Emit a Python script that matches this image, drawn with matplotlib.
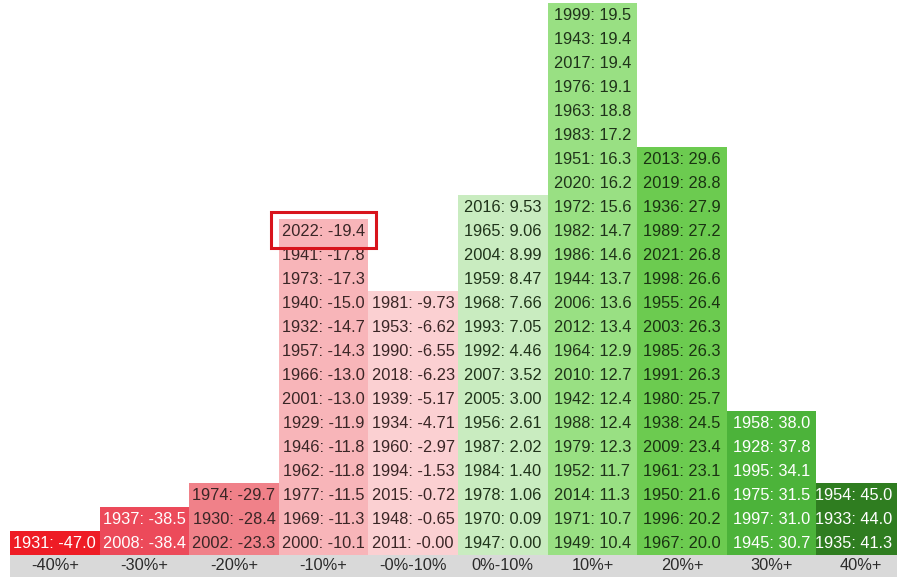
import matplotlib
matplotlib.use("Agg")
import matplotlib.pyplot as plt
from matplotlib.patches import Rectangle

# return buckets, left to right
buckets = ["-40%+", "-30%+", "-20%+", "-10%+", "-0%-10%",
           "0%-10%", "10%+", "20%+", "30%+", "40%+"]

# each bucket listed bottom to top as (year, return)
neg40 = [("1931", "-47.0")]
neg30 = [("2008", "-38.4"), ("1937", "-38.5")]
neg20 = [("2002", "-23.3"), ("1930", "-28.4"), ("1974", "-29.7")]
neg10 = [("2000", "-10.1"), ("1969", "-11.3"), ("1977", "-11.5"), ("1962", "-11.8"),
         ("1946", "-11.8"), ("1929", "-11.9"), ("2001", "-13.0"), ("1966", "-13.0"),
         ("1957", "-14.3"), ("1932", "-14.7"), ("1940", "-15.0"), ("1973", "-17.3"),
         ("1941", "-17.8"), ("2022", "-19.4")]
neg0 = [("2011", "-0.00"), ("1948", "-0.65"), ("2015", "-0.72"), ("1994", "-1.53"),
        ("1960", "-2.97"), ("1934", "-4.71"), ("1939", "-5.17"), ("2018", "-6.23"),
        ("1990", "-6.55"), ("1953", "-6.62"), ("1981", "-9.73")]
pos0 = [("1947", "0.00"), ("1970", "0.09"), ("1978", "1.06"), ("1984", "1.40"),
        ("1987", "2.02"), ("1956", "2.61"), ("2005", "3.00"), ("2007", "3.52"),
        ("1992", "4.46"), ("1993", "7.05"), ("1968", "7.66"), ("1959", "8.47"),
        ("2004", "8.99"), ("1965", "9.06"), ("2016", "9.53")]
pos10 = [("1949", "10.4"), ("1971", "10.7"), ("2014", "11.3"), ("1952", "11.7"),
         ("1979", "12.3"), ("1988", "12.4"), ("1942", "12.4"), ("2010", "12.7"),
         ("1964", "12.9"), ("2012", "13.4"), ("2006", "13.6"), ("1944", "13.7"),
         ("1986", "14.6"), ("1982", "14.7"), ("1972", "15.6"), ("2020", "16.2"),
         ("1951", "16.3"), ("1983", "17.2"), ("1963", "18.8"), ("1976", "19.1"),
         ("2017", "19.4"), ("1943", "19.4"), ("1999", "19.5")]
pos20 = [("1967", "20.0"), ("1996", "20.2"), ("1950", "21.6"), ("1961", "23.1"),
         ("2009", "23.4"), ("1938", "24.5"), ("1980", "25.7"), ("1991", "26.3"),
         ("1985", "26.3"), ("2003", "26.3"), ("1955", "26.4"), ("1998", "26.6"),
         ("2021", "26.8"), ("1989", "27.2"), ("1936", "27.9"), ("2019", "28.8"),
         ("2013", "29.6")]
pos30 = [("1945", "30.7"), ("1997", "31.0"), ("1975", "31.5"), ("1995", "34.1"),
         ("1928", "37.8"), ("1958", "38.0")]
pos40 = [("1935", "41.3"), ("1933", "44.0"), ("1954", "45.0")]

columns = [neg40, neg30, neg20, neg10, neg0, pos0, pos10, pos20, pos30, pos40]

fill_colors = ["#ee1c25", "#ec4a5a", "#f08189", "#f8b5b9", "#fbd0d2",
               "#c9ecc0", "#99e083", "#6ccb50", "#4cb33a", "#2f7d20"]
text_colors = ["white", "white", "#3a2626", "#3a2626", "#3a2626",
               "#1f331a", "#1f331a", "#1a3312", "white", "white"]

highlight_year = "2022"

plt.rcParams['font.family'] = ['Liberation Sans', 'DejaVu Sans']

fig = plt.figure(figsize=(8.97, 5.77), dpi=100)
ax = fig.add_axes([0, 0, 1, 1])

col_px = 89.6
left_px = 10
band_px = 22
cell_px = 24

# grey label band
ax.add_patch(Rectangle((0, -band_px / cell_px), len(buckets) + 1, band_px / cell_px,
                       facecolor="#d9d9d9", edgecolor="none"))

for i, (col, name) in enumerate(zip(columns, buckets)):
    n = len(col)
    ax.bar([i + 0.5] * n, [1] * n, bottom=list(range(n)), width=1.0,
           color=fill_colors[i], edgecolor="none", align="center")
    # last column is cut by the image edge, keep its text inside
    tx = i + 0.5 if i < len(buckets) - 1 else i + 0.42
    for j, (year, ret) in enumerate(col):
        ax.text(tx, j + 0.5, f"{year}: {ret}", ha="center", va="center",
                fontsize=11.8, color=text_colors[i])
        if year == highlight_year:
            ax.add_patch(Rectangle((i - 0.09, j - 0.2), 1.18, 1.5, fill=False,
                                   edgecolor="#d8141c", linewidth=2.2, zorder=5))
    ax.text(i + 0.5, -band_px / cell_px / 2, name, ha="center", va="center",
            fontsize=11.8, color="#2b2b2b")

ax.set_xlim(-left_px / col_px, (897 - left_px) / col_px)
ax.set_ylim(-band_px / cell_px, (577 - band_px) / cell_px)
ax.axis("off")

fig.savefig("out.png", dpi=100, facecolor="white")
